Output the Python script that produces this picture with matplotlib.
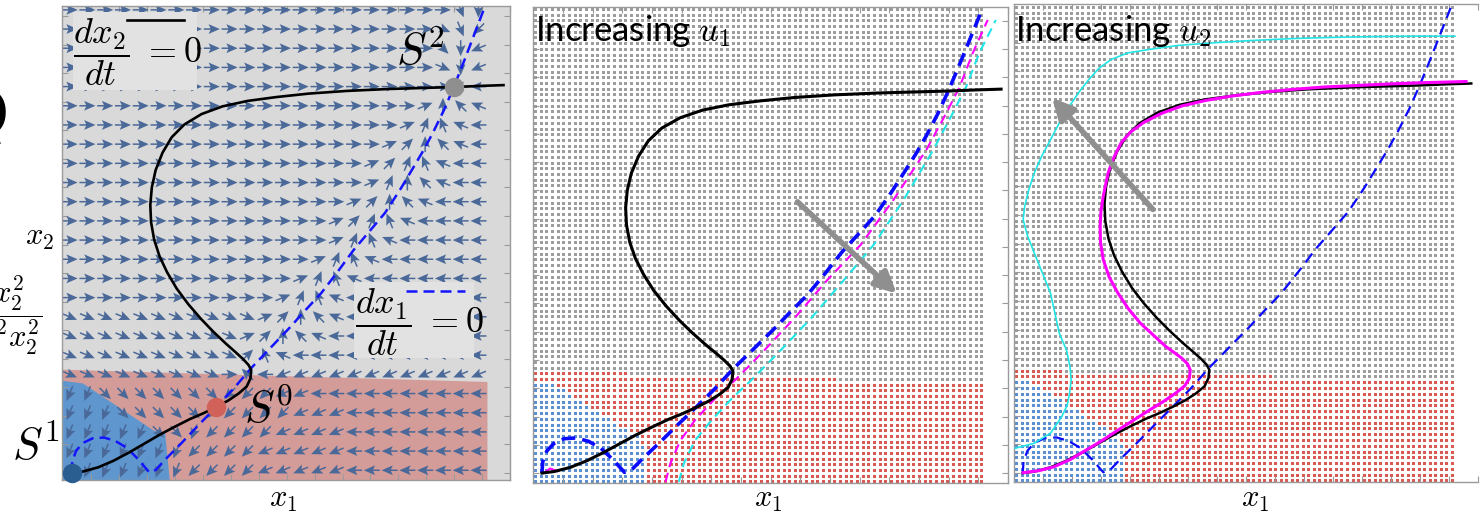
import numpy as np
import matplotlib
matplotlib.use('Agg')
import matplotlib.pyplot as plt
from matplotlib.path import Path
from matplotlib.patches import Polygon, Rectangle

plt.rcParams['mathtext.fontset'] = 'cm'

W, H = 1483, 514

# dx2/dt = 0 nullcline (S-shaped), same in all panels
black_x = [0.0, 0.3, 0.7, 1.1, 1.5, 1.9, 2.3, 2.7, 3.1, 3.45, 3.78, 4.1, 4.37, 4.58,
           4.68, 4.7, 4.63, 4.49, 4.28, 4.03, 3.7, 3.38, 3.05, 2.75, 2.5, 2.3, 2.16,
           2.08, 2.06, 2.1, 2.2, 2.38, 2.62, 2.95, 3.4, 3.95, 4.6, 5.35, 6.2, 7.2,
           8.3, 9.3, 10.0, 10.7, 11.3]
black_y = [0.0, 0.04, 0.15, 0.32, 0.53, 0.76, 0.99, 1.2, 1.4, 1.55, 1.71, 1.88, 2.06,
           2.24, 2.45, 2.67, 2.8, 2.95, 3.14, 3.36, 3.67, 4.0, 4.38, 4.78, 5.2, 5.62,
           6.05, 6.5, 6.95, 7.4, 7.85, 8.3, 8.7, 9.03, 9.3, 9.5, 9.64, 9.74, 9.83,
           9.9, 9.95, 9.98, 10.0, 10.03, 10.05]

# dx1/dt = 0 nullcline
blue_x = [0.0, 0.02, 0.12, 0.3, 0.55, 0.85, 1.15, 1.45, 1.75, 2.03, 2.2, 2.5, 2.88,
          3.3, 3.78, 4.25, 4.7, 5.2, 5.7, 6.1, 6.53, 6.95, 7.38, 7.8, 8.2, 8.6, 8.95,
          9.2, 9.45, 9.75, 10.0, 10.2, 10.38, 10.58, 10.78]
blue_y = [0.0, 0.3, 0.58, 0.78, 0.9, 0.92, 0.83, 0.65, 0.35, 0.02, 0.08, 0.4, 0.78,
          1.22, 1.71, 2.2, 2.72, 3.24, 3.76, 4.2, 4.66, 5.2, 5.78, 6.27, 6.74, 7.35,
          7.93, 8.35, 8.81, 9.42, 10.0, 10.5, 10.96, 11.48, 12.0]

# dx1/dt = 0 for increasing u1
mag_dash_x = [3.04, 3.16, 3.41, 3.77, 4.26, 4.75, 5.4, 6.21, 7.02, 7.84, 8.65, 9.46,
              9.95, 10.28, 10.6, 10.97]
mag_dash_y = [-0.23, 0.25, 0.86, 1.39, 1.95, 2.43, 3.13, 4.05, 5.05, 5.97, 7.15, 8.46,
              9.42, 10.11, 10.99, 11.86]
mag_tip_x = [0.05, 0.2, 0.38]
mag_tip_y = [0.0, 0.12, 0.05]
cyan_dash_x = [3.37, 3.49, 3.77, 4.18, 4.67, 5.15, 5.8, 6.62, 7.43, 8.16, 8.9, 9.63,
               10.11, 10.44, 10.76, 11.17]
cyan_dash_y = [-0.23, 0.25, 0.86, 1.39, 1.95, 2.43, 3.13, 4.05, 5.05, 5.97, 7.15, 8.46,
               9.42, 10.11, 10.99, 11.86]

# dx2/dt = 0 for increasing u2
mag_x = [0.01, 0.4, 0.78, 1.2, 1.59, 2.0, 2.4, 2.8, 3.2, 3.55, 3.85, 4.08, 4.2, 4.22,
         4.15, 4.0, 3.8, 3.61, 3.3, 2.96, 2.66, 2.4, 2.18, 2.03, 1.96, 1.95, 1.97,
         2.03, 2.15, 2.3, 2.48, 2.72, 3.04, 3.5, 4.01, 4.6, 5.23, 6.0, 6.84, 7.6,
         8.46, 9.3, 10.08, 11.17]
mag_y = [0.01, 0.06, 0.16, 0.35, 0.59, 0.84, 1.11, 1.37, 1.63, 1.85, 2.06, 2.25, 2.45,
         2.66, 2.82, 2.97, 3.12, 3.26, 3.55, 3.87, 4.24, 4.64, 5.05, 5.5, 5.95, 6.36,
         6.75, 7.15, 7.74, 8.15, 8.52, 8.8, 9.04, 9.28, 9.47, 9.61, 9.72, 9.82, 9.9,
         9.96, 10.0, 10.04, 10.07, 10.1]
cyan_x = [-0.19, 0.29, 0.7, 0.98, 1.12, 1.18, 1.22, 1.19, 1.1, 0.92, 0.7, 0.5, 0.29,
          0.12, 0.01, 0.05, 0.15, 0.29, 0.48, 0.7, 0.93, 1.18, 1.42, 1.67, 1.93,
          2.23, 2.65, 3.2, 3.9, 4.82, 5.8, 6.84, 7.85, 8.87, 9.9, 10.89]
cyan_y = [0.64, 0.77, 1.03, 1.45, 1.75, 2.06, 2.4, 2.75, 3.18, 3.61, 4.64, 5.15, 5.68,
          6.12, 6.54, 6.88, 7.3, 7.74, 8.18, 8.6, 9.05, 9.47, 9.83, 10.16, 10.45,
          10.67, 10.84, 10.93, 11.03, 11.1, 11.16, 11.21, 11.24, 11.26, 11.27, 11.27]

# equilibria
eq_x = [0.0, 3.78, 10.0]
eq_y = [0.0, 1.71, 10.0]
eq_colors = ['#2a5e91', '#d1625a', '#8f8f8f']

# basins of attraction
pink_x = [-0.3, 10.88, 10.88, -0.3]
pink_y = [2.68, 2.36, -0.3, -0.3]
basin_x = [-0.3, 0.3, 2.15, 2.45, 2.58, -0.3]
basin_y = [2.4, 2.32, 1.1, 1.03, -0.3, -0.3]

# arrow directions of the left panel, hex digit * 22.5 deg, rows from the top
arrow_rows = [
    "00000000 00000000 000000dc",
    "00000000 00000000 00000fda",
    "00000000 00000000 00000ec9",
    "00000000 00000000 00000fc9",
    "00000000 00000000 00000088",
    "00000000 00000000 00001467",
    "00000000 00000000 00013578",
    "00000000 00000000 00124678",
    "00000000 00000000 01235788",
    "00000000 00000000 01346788",
    "00000000 00000000 12467888",
    "00000000 00000001 23578888",
    "00000000 00000001 35788888",
    "00000000 00000013 57888888",
    "00000000 00000135 78888888",
    "00000000 00001357 88888888",
    "ffffffff fff12467 88888888",
    "ffffffff ff124678 88888888",
    "ffffffff ff257888 88888888",
    "ffffffff f0689999 99999999",
    "bbeeeeee eaaa9988 88888888",
    "bbbeeeee aaaaa999 88888888",
    "bbbbbeeb aaaa9999 88888888",
    "bbbbbbba aaa99999 88888888",
    "bbbbbbba aaa99999 88888888",
]


def add_axes_px(fig, left, top, right, bottom):
    return fig.add_axes([left / W, 1 - bottom / H, (right - left) / W, (bottom - top) / H])


def frame(ax, right_spine=True):
    ax.set_xticks(np.arange(0.52, 11.5, 0.73))
    ax.set_yticks(np.arange(0.0, 12.3, 0.74))
    ax.tick_params(direction='in', length=4, color='#9a9a9a', width=0.8,
                   top=True, right=right_spine, labelbottom=False, labelleft=False)
    for s in ax.spines.values():
        s.set_color('#9a9a9a')
        s.set_linewidth(1.0)
    if not right_spine:
        ax.spines['right'].set_visible(False)


def dotted_basins(ax, xmin, ymin, ymax):
    gx, gy = np.meshgrid(np.arange(xmin + 0.05, 10.87, 0.139), np.arange(ymin + 0.04, ymax, 0.149))
    pts = np.column_stack([gx.ravel(), gy.ravel()])
    in_blue = Path(np.column_stack([basin_x, basin_y])).contains_points(pts)
    in_pink = Path(np.column_stack([pink_x, pink_y])).contains_points(pts) & ~in_blue
    grey = ~in_blue & ~in_pink
    for mask, c, s in [(grey, '#9c9c9c', 4.6), (in_pink, '#d85a55', 4.8), (in_blue, '#5b8fd0', 4.8)]:
        sc = ax.scatter(pts[mask, 0], pts[mask, 1], s=s, marker='s', c=c, linewidths=0, zorder=1)
        sc.set_snap(False)


fig = plt.figure(figsize=(W / 100, H / 100), dpi=100)

# ---------------- left panel: phase plane ----------------
ax1 = add_axes_px(fig, 62, 6, 510, 480)
ax1.set_xlim(-0.25, 10.95)
ax1.set_ylim(-0.18, 12.1)
ax1.set_facecolor('#d9d9d9')
ax1.add_patch(Polygon(np.column_stack([pink_x, pink_y]), closed=True, fc='#d49c99', ec='none', zorder=0.5))
ax1.add_patch(Polygon(np.column_stack([basin_x, basin_y]), closed=True, fc='#5e96cd', ec='none', zorder=0.6))

ang = np.array([[int(c, 16) * 22.5 for c in row.replace(' ', '')] for row in arrow_rows])
qx = -0.05 + 0.465 * np.arange(ang.shape[1])
qy = 12.0 - 0.497 * np.arange(ang.shape[0])
QX, QY = np.meshgrid(qx, qy)
ax1.quiver(QX, QY, np.cos(np.radians(ang)), np.sin(np.radians(ang)), pivot='middle',
           color='#4a6898', units='dots', width=1.5, scale=1 / 0.16, scale_units='inches',
           headwidth=6.5, headlength=7.5, headaxislength=6.2, zorder=2)

ax1.plot(blue_x, blue_y, color='#1414ff', lw=1.8, dashes=(4.4, 2.4), zorder=3)
ax1.plot(black_x, black_y, color='black', lw=1.9, zorder=4, clip_on=False)
for x, y, c in zip(eq_x, eq_y, eq_colors):
    ax1.plot(x, y, 'o', ms=14, color=c, mec='none', zorder=5, clip_on=False)
ax1.text(9.13, 10.9, r'$S^2$', fontsize=32, ha='center', va='center', zorder=6)
ax1.text(5.15, 1.63, r'$S^0$', fontsize=32, ha='center', va='center', zorder=6)
ax1.text(-0.93, 0.65, r'$S^1$', fontsize=32, ha='center', va='center', zorder=6)

ax1.add_patch(Rectangle((0.03, 9.92), 3.25, 2.02, fc='#e2e2e2', ec='none', zorder=5))
ax1.text(0.05, 10.9, r'$\dfrac{dx_2}{dt}\ = 0$', fontsize=26, ha='left', va='center', zorder=6)
ax1.plot([1.45, 2.95], [11.74, 11.74], color='black', lw=1.9, zorder=6)
ax1.add_patch(Rectangle((7.38, 2.98), 3.15, 1.97, fc='#e2e2e2', ec='none', zorder=5))
ax1.text(7.42, 3.9, r'$\dfrac{dx_1}{dt}\ = 0$', fontsize=26, ha='left', va='center', zorder=6)
ax1.plot([8.75, 10.28], [4.72, 4.72], color='#1414ff', lw=1.8, dashes=(4.4, 2.4), zorder=6)
frame(ax1)

# ---------------- middle panel: increasing u1 ----------------
ax2 = add_axes_px(fig, 533, 7, 1008, 483)
ax2.set_xlim(-0.22, 11.37)
ax2.set_ylim(-0.26, 12.2)
dotted_basins(ax2, -0.22, -0.26, 12.2)
ax2.plot(cyan_dash_x, cyan_dash_y, color='#22e6e6', lw=1.5, dashes=(4.5, 2.8), zorder=3)
ax2.plot(mag_dash_x, mag_dash_y, color='#ff00ff', lw=1.5, dashes=(4.5, 2.8), zorder=3)
ax2.plot(mag_tip_x, mag_tip_y, color='#ff00ff', lw=1.5, zorder=3)
ax2.plot(blue_x, blue_y, color='#0a0aff', lw=2.6, dashes=(3.8, 2.0), zorder=4)
ax2.plot(black_x, black_y, color='black', lw=2.2, zorder=5)
ax2.annotate('', xy=(8.73, 4.7), xytext=(6.29, 7.1),
             arrowprops=dict(arrowstyle='-|>', lw=4, color='#8f8f8f', mutation_scale=32,
                             shrinkA=0, shrinkB=0), zorder=6)
frame(ax2)

# ---------------- right panel: increasing u2 ----------------
ax3 = add_axes_px(fig, 1014, 4, 1478, 482)
ax3.set_xlim(-0.22, 11.04)
ax3.set_ylim(-0.23, 12.1)
dotted_basins(ax3, -0.22, -0.23, 12.1)
ax3.plot(blue_x, blue_y, color='#0a0aff', lw=1.6, dashes=(5, 3), zorder=3)
ax3.plot(cyan_x, cyan_y, color='#22e6e6', lw=1.2, zorder=4)
ax3.plot(black_x, black_y, color='black', lw=1.8, zorder=5)
ax3.plot(mag_x, mag_y, color='#ff00ff', lw=2.2, zorder=6)
ax3.annotate('', xy=(0.74, 9.68), xytext=(3.28, 6.8),
             arrowprops=dict(arrowstyle='-|>', lw=4, color='#8f8f8f', mutation_scale=32,
                             shrinkA=0, shrinkB=0), zorder=7)
frame(ax3, right_spine=False)

# ---------------- labels ----------------
fig.text(535 / W, 1 - 31 / H, r'Increasing $u_\mathit{1}$', fontsize=25, family='Lato',
         ha='left', va='center')
fig.text(1015 / W, 1 - 31 / H, r'Increasing $u_\mathit{2}$', fontsize=25, family='Lato',
         ha='left', va='center')
for px in [283, 768, 1255]:
    fig.text(px / W, 1 - 500 / H, r'$x_1$', fontsize=22, ha='center', va='center')
fig.text(40 / W, 1 - 237 / H, r'$x_2$', fontsize=22, ha='center', va='center')
fig.text(42 / W, 1 - 316 / H, r'$\dfrac{k\,x_1^2x_2^2}{1+k^2x_2^2}$', fontsize=22,
         ha='right', va='center')
fig.text(9 / W, 1 - 118 / H, 'Q', fontsize=46, ha='right', va='center')

fig.savefig('out.png', dpi=100)
